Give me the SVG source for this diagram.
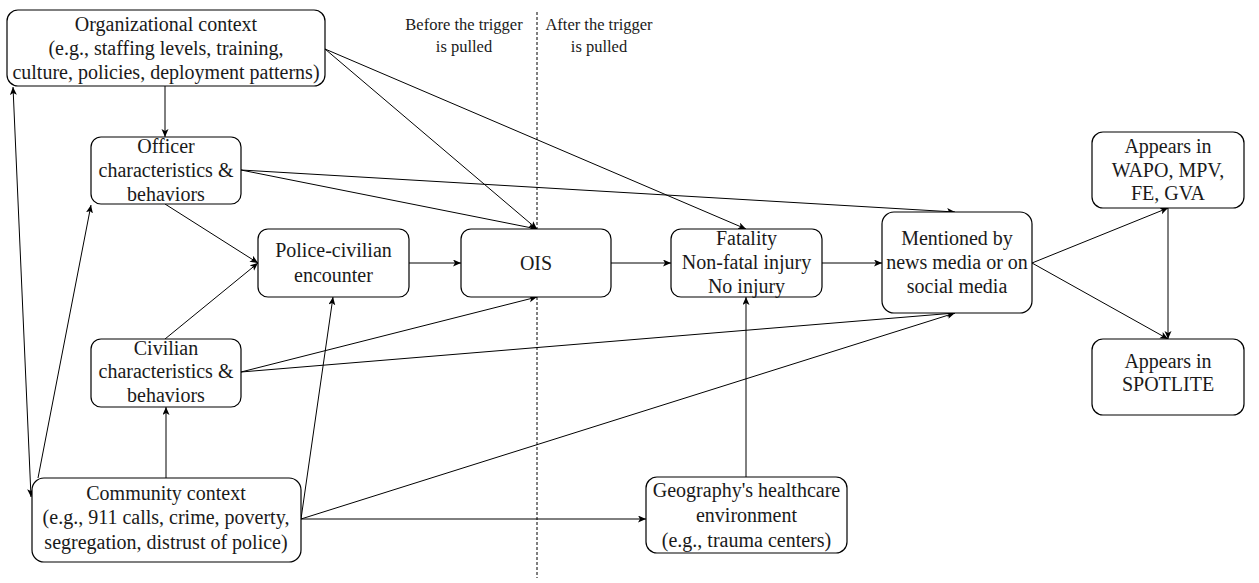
<svg xmlns="http://www.w3.org/2000/svg" width="1259" height="583" viewBox="0 0 1259 583">
<defs>
<marker id="arr" markerWidth="10" markerHeight="8" refX="8" refY="3.5" orient="auto" markerUnits="userSpaceOnUse">
<path d="M0,0 L8,3.5 L0,7 L2,3.5 z" fill="#000"/>
</marker>
<marker id="arrs" markerWidth="10" markerHeight="8" refX="8" refY="3.5" orient="auto-start-reverse" markerUnits="userSpaceOnUse">
<path d="M0,0 L8,3.5 L0,7 L2,3.5 z" fill="#000"/>
</marker>
</defs>
<style>
.box{fill:#fff;stroke:#000;stroke-width:1.2}
text{font-family:'Liberation Serif','DejaVu Serif',serif}
.t{font-size:20px;fill:#1a1a1a;text-anchor:middle}
.s{font-size:16.5px;fill:#1a1a1a;text-anchor:middle}
.c line{stroke:#000;stroke-width:1;fill:none;marker-end:url(#arr)}
</style>
<rect width="1259" height="583" fill="#fff"/>
<line x1="537" y1="12" x2="537" y2="578" stroke="#000" stroke-width="1" stroke-dasharray="3,2"/>
<g id="phase-labels" font-family="Liberation Serif, DejaVu Serif, serif">
<text class="s" x="464" y="30">Before the trigger</text>
<text class="s" x="464" y="52">is pulled</text>
<text class="s" x="599" y="30">After the trigger</text>
<text class="s" x="599" y="52">is pulled</text>
</g>
<g id="connectors" class="c">
<line x1="165" y1="86" x2="165" y2="137"/>
<line x1="325" y1="49" x2="537" y2="229"/>
<line x1="325" y1="49" x2="746" y2="229"/>
<line x1="241" y1="170" x2="537" y2="229"/>
<line x1="241" y1="170" x2="955" y2="212"/>
<line x1="165" y1="204" x2="258" y2="263"/>
<line x1="165" y1="339" x2="258" y2="263"/>
<line x1="241" y1="372" x2="537" y2="297"/>
<line x1="241" y1="372" x2="955" y2="313"/>
<line x1="409" y1="263" x2="461" y2="263"/>
<line x1="611" y1="263" x2="671" y2="263"/>
<line x1="822" y1="263" x2="882" y2="263"/>
<line x1="1032" y1="263" x2="1168" y2="208"/>
<line x1="1032" y1="263" x2="1168" y2="339"/>
<line x1="1168" y1="208" x2="1168" y2="339"/>
<line x1="166" y1="478" x2="166" y2="407"/>
<line x1="301" y1="519" x2="333" y2="297"/>
<line x1="301" y1="519" x2="955" y2="313"/>
<line x1="301" y1="519" x2="646" y2="519"/>
<line x1="746" y1="477" x2="746" y2="297"/>
<line x1="38" y1="478" x2="91" y2="205"/>
<line x1="13" y1="87" x2="31" y2="497" style="marker-start:url(#arrs)"/>
</g>
<g id="org" font-family="Liberation Serif, DejaVu Serif, serif">
<rect class="box" x="7" y="10" width="318" height="76" rx="11"/>
<text class="t" x="166" y="31">Organizational context</text>
<text class="t" x="166" y="55">(e.g., staffing levels, training,</text>
<text class="t" x="166" y="79">culture, policies, deployment patterns)</text>
</g>
<g id="officer" font-family="Liberation Serif, DejaVu Serif, serif">
<rect class="box" x="91" y="137" width="150" height="67" rx="10"/>
<text class="t" x="166" y="153">Officer</text>
<text class="t" x="166" y="177">characteristics &amp;</text>
<text class="t" x="166" y="201">behaviors</text>
</g>
<g id="encounter" font-family="Liberation Serif, DejaVu Serif, serif">
<rect class="box" x="258" y="229" width="151" height="68" rx="10"/>
<text class="t" x="333.5" y="257">Police-civilian</text>
<text class="t" x="333.5" y="282">encounter</text>
</g>
<g id="ois" font-family="Liberation Serif, DejaVu Serif, serif">
<rect class="box" x="461" y="229" width="150" height="68" rx="10"/>
<text class="t" x="536" y="270">OIS</text>
</g>
<g id="outcome" font-family="Liberation Serif, DejaVu Serif, serif">
<rect class="box" x="671" y="229" width="151" height="68" rx="10"/>
<text class="t" x="746.5" y="245">Fatality</text>
<text class="t" x="746.5" y="269">Non-fatal injury</text>
<text class="t" x="746.5" y="293">No injury</text>
</g>
<g id="mentioned" font-family="Liberation Serif, DejaVu Serif, serif">
<rect class="box" x="882" y="212" width="150" height="101" rx="12"/>
<text class="t" x="957" y="245">Mentioned by</text>
<text class="t" x="957" y="269">news media or on</text>
<text class="t" x="957" y="293">social media</text>
</g>
<g id="wapo" font-family="Liberation Serif, DejaVu Serif, serif">
<rect class="box" x="1092" y="132" width="152" height="76" rx="11"/>
<text class="t" x="1168" y="153">Appears in</text>
<text class="t" x="1168" y="177">WAPO, MPV,</text>
<text class="t" x="1168" y="200">FE, GVA</text>
</g>
<g id="spotlite" font-family="Liberation Serif, DejaVu Serif, serif">
<rect class="box" x="1092" y="339" width="152" height="76" rx="11"/>
<text class="t" x="1168" y="368">Appears in</text>
<text class="t" x="1168" y="391">SPOTLITE</text>
</g>
<g id="civilian" font-family="Liberation Serif, DejaVu Serif, serif">
<rect class="box" x="91" y="339" width="150" height="68" rx="10"/>
<text class="t" x="166" y="355">Civilian</text>
<text class="t" x="166" y="378">characteristics &amp;</text>
<text class="t" x="166" y="402">behaviors</text>
</g>
<g id="community" font-family="Liberation Serif, DejaVu Serif, serif">
<rect class="box" x="32" y="478" width="269" height="84" rx="12"/>
<text class="t" x="166" y="500">Community context</text>
<text class="t" x="166" y="524">(e.g., 911 calls, crime, poverty,</text>
<text class="t" x="166" y="549">segregation, distrust of police)</text>
</g>
<g id="geography" font-family="Liberation Serif, DejaVu Serif, serif">
<rect class="box" x="646" y="477" width="201" height="76" rx="11"/>
<text class="t" x="746.5" y="497">Geography's healthcare</text>
<text class="t" x="746.5" y="522">environment</text>
<text class="t" x="746.5" y="547">(e.g., trauma centers)</text>
</g>
</svg>
